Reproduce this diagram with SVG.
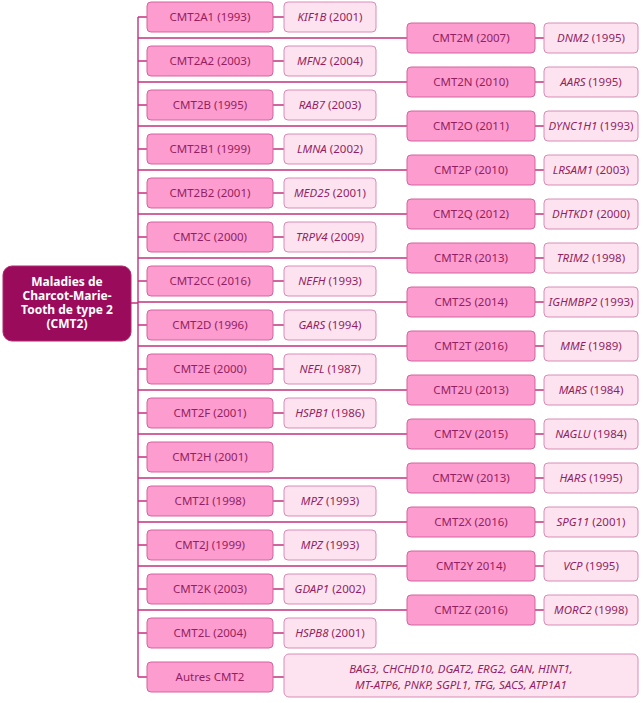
<svg xmlns="http://www.w3.org/2000/svg" width="643" height="703" viewBox="0 0 643 703">
<style>
.bg{fill:#ffffff}
.n{fill:#fd9ccf;stroke:#d5639e;stroke-width:1}
.g{fill:#fde3f0;stroke:#d98cb6;stroke-width:1}
.r{fill:#9b0b5c;stroke:#b0286f;stroke-width:1}
.c{stroke:#c2337f;stroke-width:1.4;fill:none}
text{font-family:"Noto Sans","Open Sans","Liberation Sans",sans-serif;font-size:11.5px;fill:#931f62;text-anchor:middle}
.rt{fill:#ffffff;font-weight:bold;font-size:12px}
.i{font-style:italic}
</style>
<rect class="bg" x="0" y="0" width="643" height="703"/>
<g id="connectors">
<path class="c" d="M131,303H138M138,17V677"/>
<path class="c" d="M138,17H147M138,61H147M138,105H147M138,149H147M138,193H147M138,237H147M138,281H147M138,325H147M138,369H147M138,413H147M138,457H147M138,501H147M138,545H147M138,589H147M138,633H147M138,677H147"/>
<path class="c" d="M273,17H284M273,61H284M273,105H284M273,149H284M273,193H284M273,237H284M273,281H284M273,325H284M273,369H284M273,413H284M273,501H284M273,545H284M273,589H284M273,633H284M273,677H284"/>
<path class="c" d="M138,38H407M138,82H407M138,126H407M138,170H407M138,214H407M138,258H407M138,302H407M138,346H407M138,390H407M138,434H407M138,478H407M138,522H407M138,566H407M138,610H407"/>
<path class="c" d="M535,38H544M535,82H544M535,126H544M535,170H544M535,214H544M535,258H544M535,302H544M535,346H544M535,390H544M535,434H544M535,478H544M535,522H544M535,566H544M535,610H544"/>
</g>
<g id="root"><rect class="r" x="3" y="266" width="128" height="75" rx="9"/>
<text class="rt" x="67" y="286">Maladies de</text><text class="rt" x="67" y="300">Charcot-Marie-</text><text class="rt" x="67" y="314">Tooth de type 2</text><text class="rt" x="67" y="328">(CMT2)</text></g>

<g id="cmt2a1"><rect class="n" x="147" y="2" width="126" height="30" rx="4"/><text x="210" y="21">CMT2A1 (1993)</text></g>
<g id="kif1b"><rect class="g" x="284" y="2" width="92" height="30" rx="4"/><text x="330" y="21"><tspan class="i">KIF1B</tspan> (2001)</text></g>
<g id="cmt2a2"><rect class="n" x="147" y="46" width="126" height="30" rx="4"/><text x="210" y="65">CMT2A2 (2003)</text></g>
<g id="mfn2"><rect class="g" x="284" y="46" width="92" height="30" rx="4"/><text x="330" y="65"><tspan class="i">MFN2</tspan> (2004)</text></g>
<g id="cmt2b"><rect class="n" x="147" y="90" width="126" height="30" rx="4"/><text x="210" y="109">CMT2B (1995)</text></g>
<g id="rab7"><rect class="g" x="284" y="90" width="92" height="30" rx="4"/><text x="330" y="109"><tspan class="i">RAB7</tspan> (2003)</text></g>
<g id="cmt2b1"><rect class="n" x="147" y="134" width="126" height="30" rx="4"/><text x="210" y="153">CMT2B1 (1999)</text></g>
<g id="lmna"><rect class="g" x="284" y="134" width="92" height="30" rx="4"/><text x="330" y="153"><tspan class="i">LMNA</tspan> (2002)</text></g>
<g id="cmt2b2"><rect class="n" x="147" y="178" width="126" height="30" rx="4"/><text x="210" y="197">CMT2B2 (2001)</text></g>
<g id="med25"><rect class="g" x="284" y="178" width="92" height="30" rx="4"/><text x="330" y="197"><tspan class="i">MED25</tspan> (2001)</text></g>
<g id="cmt2c"><rect class="n" x="147" y="222" width="126" height="30" rx="4"/><text x="210" y="241">CMT2C (2000)</text></g>
<g id="trpv4"><rect class="g" x="284" y="222" width="92" height="30" rx="4"/><text x="330" y="241"><tspan class="i">TRPV4</tspan> (2009)</text></g>
<g id="cmt2cc"><rect class="n" x="147" y="266" width="126" height="30" rx="4"/><text x="210" y="285">CMT2CC (2016)</text></g>
<g id="nefh"><rect class="g" x="284" y="266" width="92" height="30" rx="4"/><text x="330" y="285"><tspan class="i">NEFH</tspan> (1993)</text></g>
<g id="cmt2d"><rect class="n" x="147" y="310" width="126" height="30" rx="4"/><text x="210" y="329">CMT2D (1996)</text></g>
<g id="gars"><rect class="g" x="284" y="310" width="92" height="30" rx="4"/><text x="330" y="329"><tspan class="i">GARS</tspan> (1994)</text></g>
<g id="cmt2e"><rect class="n" x="147" y="354" width="126" height="30" rx="4"/><text x="210" y="373">CMT2E (2000)</text></g>
<g id="nefl"><rect class="g" x="284" y="354" width="92" height="30" rx="4"/><text x="330" y="373"><tspan class="i">NEFL</tspan> (1987)</text></g>
<g id="cmt2f"><rect class="n" x="147" y="398" width="126" height="30" rx="4"/><text x="210" y="417">CMT2F (2001)</text></g>
<g id="hspb1"><rect class="g" x="284" y="398" width="92" height="30" rx="4"/><text x="330" y="417"><tspan class="i">HSPB1</tspan> (1986)</text></g>
<g id="cmt2h"><rect class="n" x="147" y="442" width="126" height="30" rx="4"/><text x="210" y="461">CMT2H (2001)</text></g>
<g id="cmt2i"><rect class="n" x="147" y="486" width="126" height="30" rx="4"/><text x="210" y="505">CMT2I (1998)</text></g>
<g id="mpz1"><rect class="g" x="284" y="486" width="92" height="30" rx="4"/><text x="330" y="505"><tspan class="i">MPZ</tspan> (1993)</text></g>
<g id="cmt2j"><rect class="n" x="147" y="530" width="126" height="30" rx="4"/><text x="210" y="549">CMT2J (1999)</text></g>
<g id="mpz2"><rect class="g" x="284" y="530" width="92" height="30" rx="4"/><text x="330" y="549"><tspan class="i">MPZ</tspan> (1993)</text></g>
<g id="cmt2k"><rect class="n" x="147" y="574" width="126" height="30" rx="4"/><text x="210" y="593">CMT2K (2003)</text></g>
<g id="gdap1"><rect class="g" x="284" y="574" width="92" height="30" rx="4"/><text x="330" y="593"><tspan class="i">GDAP1</tspan> (2002)</text></g>
<g id="cmt2l"><rect class="n" x="147" y="618" width="126" height="30" rx="4"/><text x="210" y="637">CMT2L (2004)</text></g>
<g id="hspb8"><rect class="g" x="284" y="618" width="92" height="30" rx="4"/><text x="330" y="637"><tspan class="i">HSPB8</tspan> (2001)</text></g>
<g id="autres"><rect class="n" x="147" y="662" width="126" height="30" rx="4"/><text x="210" y="681">Autres CMT2</text></g>
<g id="autres-genes"><rect class="g" x="284" y="654" width="354" height="43" rx="5"/><text class="i" x="461" y="673">BAG3, CHCHD10, DGAT2, ERG2, GAN, HINT1,</text><text class="i" x="461" y="689">MT-ATP6, PNKP, SGPL1, TFG, SACS, ATP1A1</text></g>

<g id="cmt2m"><rect class="n" x="407" y="23" width="128" height="30" rx="4"/><text x="471" y="42">CMT2M (2007)</text></g>
<g id="dnm2"><rect class="g" x="544" y="23" width="94" height="30" rx="4"/><text x="591" y="42"><tspan class="i">DNM2</tspan> (1995)</text></g>
<g id="cmt2n"><rect class="n" x="407" y="67" width="128" height="30" rx="4"/><text x="471" y="86">CMT2N (2010)</text></g>
<g id="aars"><rect class="g" x="544" y="67" width="94" height="30" rx="4"/><text x="591" y="86"><tspan class="i">AARS</tspan> (1995)</text></g>
<g id="cmt2o"><rect class="n" x="407" y="111" width="128" height="30" rx="4"/><text x="471" y="130">CMT2O (2011)</text></g>
<g id="dync1h1"><rect class="g" x="544" y="111" width="94" height="30" rx="4"/><text x="591" y="130"><tspan class="i">DYNC1H1</tspan> (1993)</text></g>
<g id="cmt2p"><rect class="n" x="407" y="155" width="128" height="30" rx="4"/><text x="471" y="174">CMT2P (2010)</text></g>
<g id="lrsam1"><rect class="g" x="544" y="155" width="94" height="30" rx="4"/><text x="591" y="174"><tspan class="i">LRSAM1</tspan> (2003)</text></g>
<g id="cmt2q"><rect class="n" x="407" y="199" width="128" height="30" rx="4"/><text x="471" y="218">CMT2Q (2012)</text></g>
<g id="dhtkd1"><rect class="g" x="544" y="199" width="94" height="30" rx="4"/><text x="591" y="218"><tspan class="i">DHTKD1</tspan> (2000)</text></g>
<g id="cmt2r"><rect class="n" x="407" y="243" width="128" height="30" rx="4"/><text x="471" y="262">CMT2R (2013)</text></g>
<g id="trim2"><rect class="g" x="544" y="243" width="94" height="30" rx="4"/><text x="591" y="262"><tspan class="i">TRIM2</tspan> (1998)</text></g>
<g id="cmt2s"><rect class="n" x="407" y="287" width="128" height="30" rx="4"/><text x="471" y="306">CMT2S (2014)</text></g>
<g id="ighmbp2"><rect class="g" x="544" y="287" width="94" height="30" rx="4"/><text x="591" y="306"><tspan class="i">IGHMBP2</tspan> (1993)</text></g>
<g id="cmt2t"><rect class="n" x="407" y="331" width="128" height="30" rx="4"/><text x="471" y="350">CMT2T (2016)</text></g>
<g id="mme"><rect class="g" x="544" y="331" width="94" height="30" rx="4"/><text x="591" y="350"><tspan class="i">MME</tspan> (1989)</text></g>
<g id="cmt2u"><rect class="n" x="407" y="375" width="128" height="30" rx="4"/><text x="471" y="394">CMT2U (2013)</text></g>
<g id="mars"><rect class="g" x="544" y="375" width="94" height="30" rx="4"/><text x="591" y="394"><tspan class="i">MARS</tspan> (1984)</text></g>
<g id="cmt2v"><rect class="n" x="407" y="419" width="128" height="30" rx="4"/><text x="471" y="438">CMT2V (2015)</text></g>
<g id="naglu"><rect class="g" x="544" y="419" width="94" height="30" rx="4"/><text x="591" y="438"><tspan class="i">NAGLU</tspan> (1984)</text></g>
<g id="cmt2w"><rect class="n" x="407" y="463" width="128" height="30" rx="4"/><text x="471" y="482">CMT2W (2013)</text></g>
<g id="hars"><rect class="g" x="544" y="463" width="94" height="30" rx="4"/><text x="591" y="482"><tspan class="i">HARS</tspan> (1995)</text></g>
<g id="cmt2x"><rect class="n" x="407" y="507" width="128" height="30" rx="4"/><text x="471" y="526">CMT2X (2016)</text></g>
<g id="spg11"><rect class="g" x="544" y="507" width="94" height="30" rx="4"/><text x="591" y="526"><tspan class="i">SPG11</tspan> (2001)</text></g>
<g id="cmt2y"><rect class="n" x="407" y="551" width="128" height="30" rx="4"/><text x="471" y="570">CMT2Y 2014)</text></g>
<g id="vcp"><rect class="g" x="544" y="551" width="94" height="30" rx="4"/><text x="591" y="570"><tspan class="i">VCP</tspan> (1995)</text></g>
<g id="cmt2z"><rect class="n" x="407" y="595" width="128" height="30" rx="4"/><text x="471" y="614">CMT2Z (2016)</text></g>
<g id="morc2"><rect class="g" x="544" y="595" width="94" height="30" rx="4"/><text x="591" y="614"><tspan class="i">MORC2</tspan> (1998)</text></g>
</svg>
